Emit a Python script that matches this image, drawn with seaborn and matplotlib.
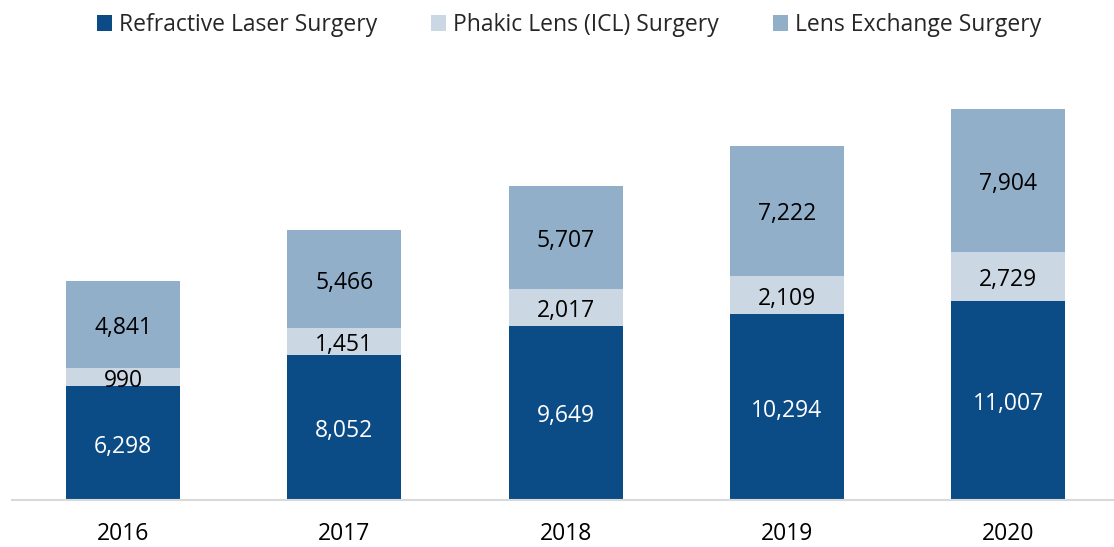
import numpy as np
import pandas as pd
import matplotlib
matplotlib.use("Agg")
import matplotlib.pyplot as plt
import seaborn as sns
from matplotlib.patches import Patch

years = ["2016", "2017", "2018", "2019", "2020"]
laser = [6298, 8052, 9649, 10294, 11007]
phakic = [990, 1451, 2017, 2109, 2729]
exchange = [4841, 5466, 5707, 7222, 7904]
series_names = ["Refractive Laser Surgery", "Phakic Lens (ICL) Surgery", "Lens Exchange Surgery"]

c_laser = "#0B4C86"
c_phakic = "#CBD7E3"
c_exchange = "#92AFCA"

sns.set_theme(style="white")
plt.rcParams['font.family'] = ['Open Sans', 'DejaVu Sans']

df = pd.DataFrame({"year": years, "laser": laser, "phakic": phakic, "exchange": exchange})
df["cum2"] = df["laser"] + df["phakic"]
df["cum3"] = df["cum2"] + df["exchange"]

fig = plt.figure(figsize=(11.14, 5.47), dpi=100)
ax = fig.add_axes([12/1114, 47/547, 1102/1114, 433.4/547])

bw = 0.515
sns.barplot(data=df, x="year", y="cum3", color=c_exchange, width=bw, saturation=1, ax=ax, linewidth=0)
sns.barplot(data=df, x="year", y="cum2", color=c_phakic, width=bw, saturation=1, ax=ax, linewidth=0)
sns.barplot(data=df, x="year", y="laser", color=c_laser, width=bw, saturation=1, ax=ax, linewidth=0)

fs = 16.5
def lab(x, y, s, col):
    ax.annotate(s, (x, y), xytext=(0, -2.5), textcoords="offset points",
                ha="center", va="center", color=col, fontsize=fs)

for i in range(len(years)):
    lab(i, laser[i] / 2, f"{laser[i]:,}", "white")
    lab(i, laser[i] + phakic[i] / 2, f"{phakic[i]:,}", "black")
    lab(i, laser[i] + phakic[i] + exchange[i] / 2, f"{exchange[i]:,}", "black")

ax.set_xlim(-0.502, 4.479)
ax.set_ylim(0, 24000)
ax.set_xlabel("")
ax.set_ylabel("")
ax.set_yticks([])
ax.tick_params(axis="x", length=0, labelsize=fs, pad=16, colors="black")
for s in ["top", "right", "left"]:
    ax.spines[s].set_visible(False)
ax.spines["bottom"].set_color("#D9D9D9")
ax.spines["bottom"].set_linewidth(1.5)

handles = [Patch(facecolor=c, edgecolor="none") for c in (c_laser, c_phakic, c_exchange)]
fig.legend(handles, series_names, loc="center", bbox_to_anchor=(569/1114, 1 - 25/547), ncol=3,
           frameon=False, fontsize=fs, handlelength=0.65, handleheight=0.65, handletextpad=0.3,
           columnspacing=2.36)

fig.savefig("out.png", dpi=100)
